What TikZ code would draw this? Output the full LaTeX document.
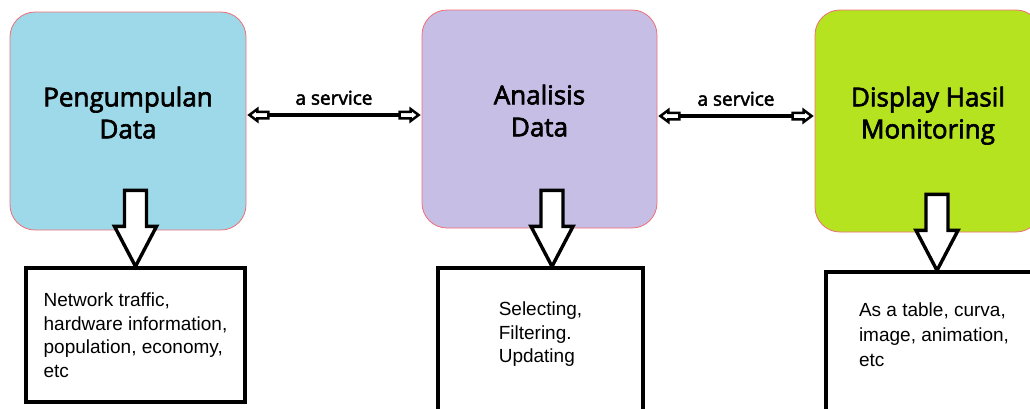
\documentclass[tikz,border=0pt]{standalone}
\usepackage{fontspec}
\setmainfont{Liberation Sans}
\newfontfamily\headfont[FakeBold=2.5]{Open Sans}
\usetikzlibrary{calc}

\definecolor{pgblue}{RGB}{157,217,232}
\definecolor{anlilac}{RGB}{199,190,230}
\definecolor{dsgreen}{RGB}{181,227,31}
\definecolor{edgered}{RGB}{240,110,120}

\begin{document}
\begin{tikzpicture}[x=1pt,y=-1pt]
  \tikzset{stage/.style={draw=edgered,line width=0.8pt,rounded corners=25pt,
      minimum width=236pt,minimum height=218pt,align=center,text depth=17pt,
      font=\headfont\fontsize{26}{32}\selectfont},
    note/.style={draw,line width=3.2pt,align=left,font=\fontsize{19}{23.5}\selectfont},
    svtip/.style={draw,fill=white,line width=2.5pt,miter limit=3},
    blockarrow/.style={draw,fill=white,line width=3.4pt,miter limit=4}}
  \useasboundingbox (0,0) rectangle (1030,408);

  % the three stages
  \node[stage,fill=pgblue] (pg) at (128,121) {Pengumpulan\\Data};
  \node[stage,fill=anlilac,minimum width=235pt] (an) at (539.5,119) {Analisis\\Data};
  \node[stage,fill=dsgreen,minimum width=226pt,minimum height=222pt] (ds) at (928,121) {Display Hasil\\Monitoring};

  % what each stage is about
  \node[note,minimum width=219pt,minimum height=134pt] (pgnote) at (135.5,335)
    {Network traffic,\\hardware information,\\population, economy,\\etc};
  \node[note,minimum width=205pt,minimum height=145pt,text depth=16pt] (annote) at (540.5,340.5)
    {Selecting,\\Filtering.\\Updating};
  \node[note,minimum width=216pt,minimum height=140pt,text depth=14pt,
    font=\fontsize{19}{25}\selectfont] (dsnote) at (934,342)
    {As a table, curva,\\image, animation,\\etc};

  % services between stages, little hollow heads at both ends
  \foreach \l/\r/\dy in {pg/an/6,an/ds/3} {
    \coordinate (lft) at ([yshift=\dy pt]\l.east);
    \coordinate (rgt) at ([yshift=\dy pt]\l.east -| \r.west);
    \draw[line width=3.6pt] ([xshift=20pt]lft) -- node[above=5pt,font=\headfont\fontsize{19}{22}\selectfont]{a service} ([xshift=-20pt]rgt);
    \draw[svtip] ([xshift=3pt]lft) -- ++(8,-6) -- ++(0,2.75) -- ++(11,0) -- ++(0,6.5)
      -- ++(-11,0) -- ++(0,2.75) -- cycle;
    \draw[svtip] ([xshift=-3pt]rgt) -- ++(-8,-6) -- ++(0,2.75) -- ++(-11,0) -- ++(0,6.5)
      -- ++(11,0) -- ++(0,2.75) -- cycle;
  }

  % big hollow arrows down to the notes
  \foreach \s/\d/\dx in {pg/pgnote/0,an/annote/11.5,ds/dsnote/3}
    \draw[blockarrow] ($(\d.north)+(\dx,0)$) -- ++(21,-40) -- ++(-10,0) -- ++(0,-36)
      -- ++(-22,0) -- ++(0,36) -- ++(-10,0) -- cycle;
\end{tikzpicture}
\end{document}
